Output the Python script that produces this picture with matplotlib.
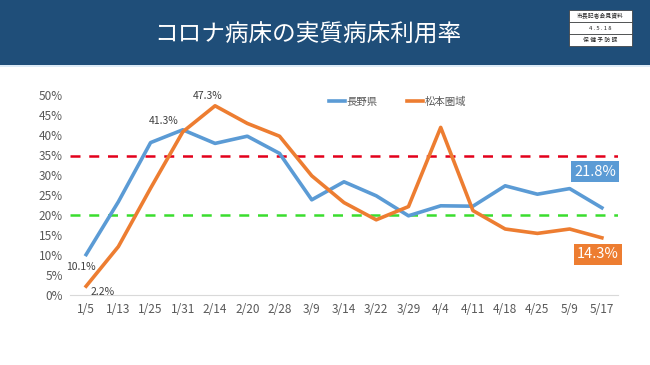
import numpy as np
import matplotlib.pyplot as plt
from matplotlib.patches import Rectangle

plt.rcParams['font.family'] = ['Noto Sans CJK JP', 'DejaVu Sans']

dates = ['1/5', '1/13', '1/25', '1/31', '2/14', '2/20', '2/28', '3/9', '3/14',
         '3/22', '3/29', '4/4', '4/11', '4/18', '4/25', '5/9', '5/17']
nagano = [10.1, 23.3, 38.1, 41.3, 37.9, 39.7, 35.4, 23.8, 28.3,
          24.8, 19.8, 22.3, 22.2, 27.3, 25.2, 26.6, 21.8]
matsumoto = [2.2, 12.1, 26.7, 40.8, 47.3, 42.9, 39.7, 29.8, 23.1,
             18.8, 22.1, 41.9, 21.1, 16.5, 15.4, 16.5, 14.3]
red_level = 34.7
green_level = 20

BLUE = '#5B9BD5'
ORANGE = '#ED7D31'

fig = plt.figure(figsize=(6.5, 3.65), dpi=100)

# header bar
fig.patches.append(Rectangle((0, 1 - 65 / 365), 1, 65 / 365, transform=fig.transFigure,
                             facecolor='#1F4E79', edgecolor='none', zorder=0))
fig.patches.append(Rectangle((0, 1 - 67 / 365), 1, 2 / 365, transform=fig.transFigure,
                             facecolor='#DDEBF7', edgecolor='none', zorder=0))
fig.text(308 / 650, 1 - 35 / 365, 'コロナ病床の実質病床利用率', color='white',
         fontsize=17, ha='center', va='center')

# stamp box
sx0, sx1 = 569 / 650, 632 / 650
rows = ['市長記者会見資料', '4 . 5 . 1 8', '保 健 予 防 課']
for i, t in enumerate(rows):
    y0 = 1 - (10 + 12 * (i + 1)) / 365
    fig.patches.append(Rectangle((sx0, y0), sx1 - sx0, 12 / 365, transform=fig.transFigure,
                                 facecolor='white', edgecolor='#333333', linewidth=0.5))
    fig.text((sx0 + sx1) / 2, y0 + 6 / 365, t, fontsize=4.2, ha='center', va='center',
             color='#222222')

ax = fig.add_axes([70 / 650, 1 - 295 / 365, 548 / 650, 200 / 365])
x = np.arange(len(dates))

ax.axhline(red_level, color='#E3001B', lw=1.8, ls=(0, (4, 3.5)), zorder=1)
ax.axhline(green_level, color='#3ADD2E', lw=1.8, ls=(0, (4, 3.5)), zorder=1)

ax.plot(x, nagano, color=BLUE, lw=2.6, label='長野県', zorder=3)
ax.plot(x, matsumoto, color=ORANGE, lw=2.6, label='松本圏域', zorder=3)

ax.set_xlim(-0.5, len(dates) - 0.5)
ax.set_ylim(0, 50)
ax.set_xticks(x)
ax.set_xticklabels(dates)
ax.set_yticks(np.arange(0, 51, 5))
ax.set_yticklabels([f'{v}%' for v in range(0, 51, 5)])
ax.tick_params(colors='#595959', labelsize=8.5, length=0)
ax.tick_params(axis='x', pad=6)
ax.tick_params(axis='y', pad=5)
for s in ['top', 'right', 'left']:
    ax.spines[s].set_visible(False)
ax.spines['bottom'].set_color('#D9D9D9')

lbl = dict(fontsize=7.5, color='#404040')
ax.annotate(f'{nagano[0]}%', (x[0], nagano[0]), xytext=(-4, -9), textcoords='offset points',
            ha='center', va='center', **lbl)
ax.annotate(f'{matsumoto[0]}%', (x[0], matsumoto[0]), xytext=(12, -4), textcoords='offset points',
            ha='center', va='center', **lbl)
ax.annotate(f'{nagano[3]}%', (x[3], nagano[3]), xytext=(-14, 6), textcoords='offset points',
            ha='center', va='center', **lbl)
ax.annotate(f'{matsumoto[4]}%', (x[4], matsumoto[4]), xytext=(-5, 7), textcoords='offset points',
            ha='center', va='center', **lbl)

ax.annotate(f'{nagano[-1]}%', (x[-1], nagano[-1]), xytext=(-5, 26), textcoords='offset points',
            ha='center', va='center', fontsize=10.5, color='white',
            bbox=dict(boxstyle='square,pad=0.22', fc=BLUE, ec='none'))
ax.annotate(f'{matsumoto[-1]}%', (x[-1], matsumoto[-1]), xytext=(-3, -12), textcoords='offset points',
            ha='center', va='center', fontsize=10.5, color='white',
            bbox=dict(boxstyle='square,pad=0.22', fc=ORANGE, ec='none'))

leg = ax.legend(loc='upper left', bbox_to_anchor=(0.455, 1.04), ncol=2, frameon=False,
                fontsize=7.5, handlelength=1.6, handletextpad=0.1, columnspacing=2.8)
for t in leg.get_texts():
    t.set_color('#595959')

fig.savefig('out.png', dpi=100)
